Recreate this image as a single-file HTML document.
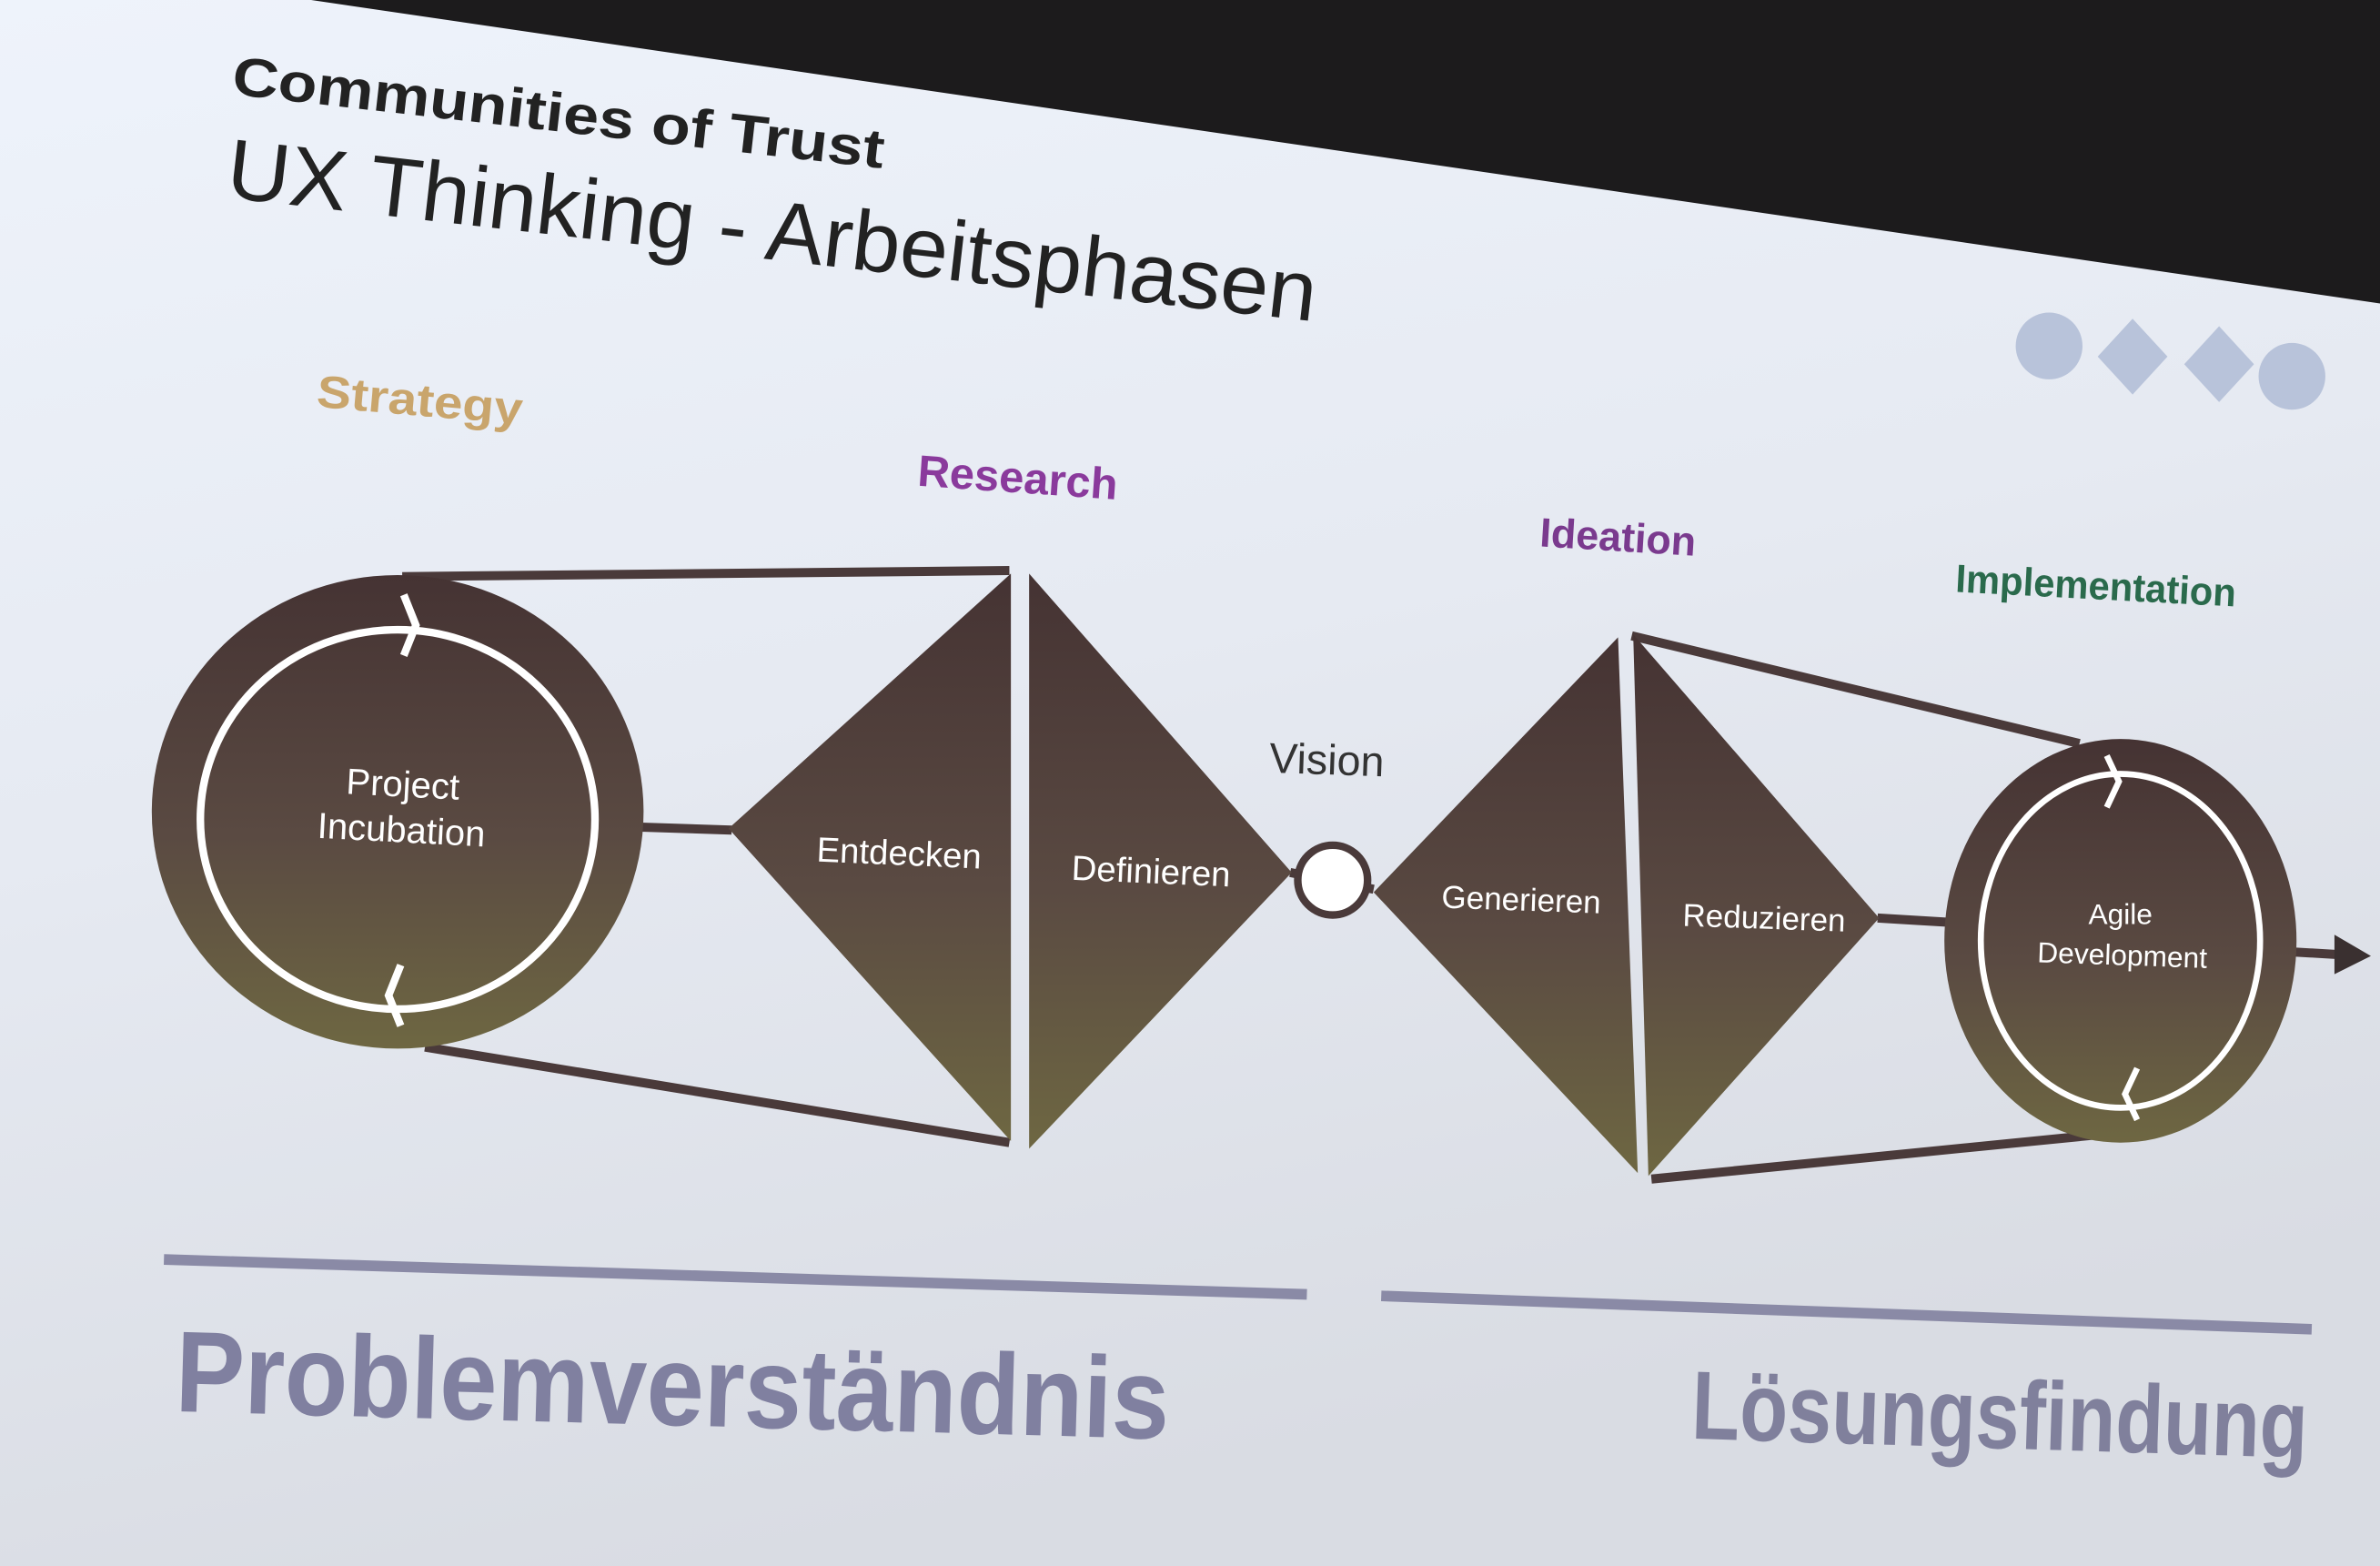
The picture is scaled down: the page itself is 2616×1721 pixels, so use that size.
<!DOCTYPE html>
<html><head><meta charset="utf-8"><style>
html,body{margin:0;padding:0;width:2616px;height:1721px;overflow:hidden;background:#dfe4ec}
svg{display:block}
text{font-family:"Liberation Sans",sans-serif}
</style></head><body>
<svg width="2616" height="1721" viewBox="0 0 1568 1032" preserveAspectRatio="none">
<defs>
<linearGradient id="bg" x1="0" y1="0" x2="0.3" y2="1">
<stop offset="0" stop-color="#eef3fb"/><stop offset="0.5" stop-color="#e6eaf2"/><stop offset="1" stop-color="#d9dce3"/></linearGradient>
<linearGradient id="sh" x1="0" y1="0" x2="0" y2="1">
<stop offset="0" stop-color="#453333"/><stop offset="0.55" stop-color="#5a4a42"/><stop offset="1" stop-color="#6e6742"/></linearGradient>
</defs>
<rect width="1568" height="1032" fill="url(#bg)"/>
<polygon points="205,0 1568,0 1568,200" fill="#1c1b1c"/>
<g fill="#b8c3da">
<circle cx="1350" cy="228" r="22"/>
<polygon points="1405,210 1428,235 1405,260 1382,235"/>
<polygon points="1462,215 1485,240 1462,265 1439,240"/>
<circle cx="1510" cy="248" r="22"/>
</g>
<text x="152" y="62" font-size="36" font-weight="bold" fill="#222" textLength="432" lengthAdjust="spacingAndGlyphs" transform="rotate(6.5 152 62)">Communities of Trust</text>
<text x="148" y="130" font-size="56" fill="#222" textLength="722" lengthAdjust="spacingAndGlyphs" transform="rotate(6.5 148 130)">UX Thinking - Arbeitsphasen</text>
<text x="208" y="268" font-size="30" font-weight="bold" fill="#c9a56c" textLength="136" lengthAdjust="spacingAndGlyphs" transform="rotate(5 208 268)">Strategy</text>
<text x="604" y="320" font-size="29" font-weight="bold" fill="#8a3a9c" textLength="132" lengthAdjust="spacingAndGlyphs" transform="rotate(4 604 320)">Research</text>
<text x="1014" y="360" font-size="27" font-weight="bold" fill="#7a3a8e" textLength="103" lengthAdjust="spacingAndGlyphs" transform="rotate(3.5 1014 360)">Ideation</text>
<text x="1288" y="390" font-size="26" font-weight="bold" fill="#2a6a4c" textLength="185" lengthAdjust="spacingAndGlyphs" transform="rotate(3 1288 390)">Implementation</text>
<g stroke="#4a3a3a" stroke-width="6" fill="none">
<line x1="265" y1="380" x2="665" y2="376"/>
<line x1="280" y1="690" x2="665" y2="753"/>
<line x1="1075" y1="419" x2="1370" y2="490"/>
<line x1="1088" y1="777" x2="1380" y2="748"/>
<line x1="420" y1="545" x2="482" y2="547"/>
<line x1="850" y1="575" x2="905" y2="586"/>
<line x1="1237" y1="605" x2="1287" y2="608"/>
<line x1="1505" y1="627" x2="1540" y2="629"/>
</g>
<polygon points="1538,616 1562,630 1538,642" fill="#3a3030"/>
<ellipse cx="262" cy="535" rx="162" ry="156" fill="url(#sh)"/>
<ellipse cx="262" cy="540" rx="130" ry="125" fill="none" stroke="#fff" stroke-width="5"/>
<path d="M266 392 L274 412 L266 432" fill="none" stroke="#fff" stroke-width="5"/>
<path d="M264 636 L256 656 L264 676" fill="none" stroke="#fff" stroke-width="5"/>
<polygon points="480,546 666,378 666,752" fill="url(#sh)"/>
<polygon points="678,378 678,757 851,575" fill="url(#sh)"/>
<polygon points="905,588 1066,420 1079,773" fill="url(#sh)"/>
<polygon points="1076,418 1086,775 1238,605" fill="url(#sh)"/>
<circle cx="878" cy="580" r="23" fill="#fff" stroke="#4a3a3a" stroke-width="5"/>
<ellipse cx="1397" cy="620" rx="116" ry="133" fill="url(#sh)"/>
<ellipse cx="1397" cy="620" rx="92" ry="110" fill="none" stroke="#fff" stroke-width="4"/>
<path d="M1388 498 L1396 515 L1388 532" fill="none" stroke="#fff" stroke-width="4"/>
<path d="M1408 704 L1400 721 L1408 738" fill="none" stroke="#fff" stroke-width="4"/>
<g fill="#fff" font-size="24" text-anchor="middle">
<text x="265" y="525" transform="rotate(3 265 525)">Project</text>
<text x="264" y="555" transform="rotate(3 264 555)">Incubation</text>
<text x="592" y="570" font-size="23" transform="rotate(2.5 592 570)">Entdecken</text>
<text x="758" y="582" font-size="23" transform="rotate(2.5 758 582)">Definieren</text>
<text x="1002" y="600" font-size="21" transform="rotate(2 1002 600)">Generieren</text>
<text x="1162" y="612" font-size="21" transform="rotate(2 1162 612)">Reduzieren</text>
<text x="1397" y="609" font-size="19">Agile</text>
<text x="1398" y="636" font-size="19" transform="rotate(2 1398 636)">Development</text>
</g>
<text x="836" y="509" font-size="28" fill="#333" transform="rotate(2 836 509)">Vision</text>
<line x1="108" y1="830" x2="861" y2="853" stroke="#8a8aa6" stroke-width="7"/>
<line x1="910" y1="854" x2="1523" y2="876" stroke="#8a8aa6" stroke-width="7"/>
<text x="115" y="930" font-size="76" font-weight="bold" fill="#8080a0" textLength="655" lengthAdjust="spacingAndGlyphs" transform="rotate(1.6 115 930)">Problemverständnis</text>
<text x="1114" y="948" font-size="64" font-weight="bold" fill="#80809c" textLength="406" lengthAdjust="spacingAndGlyphs" transform="rotate(1.8 1114 948)">Lösungsfindung</text>
</svg>
</body></html>
